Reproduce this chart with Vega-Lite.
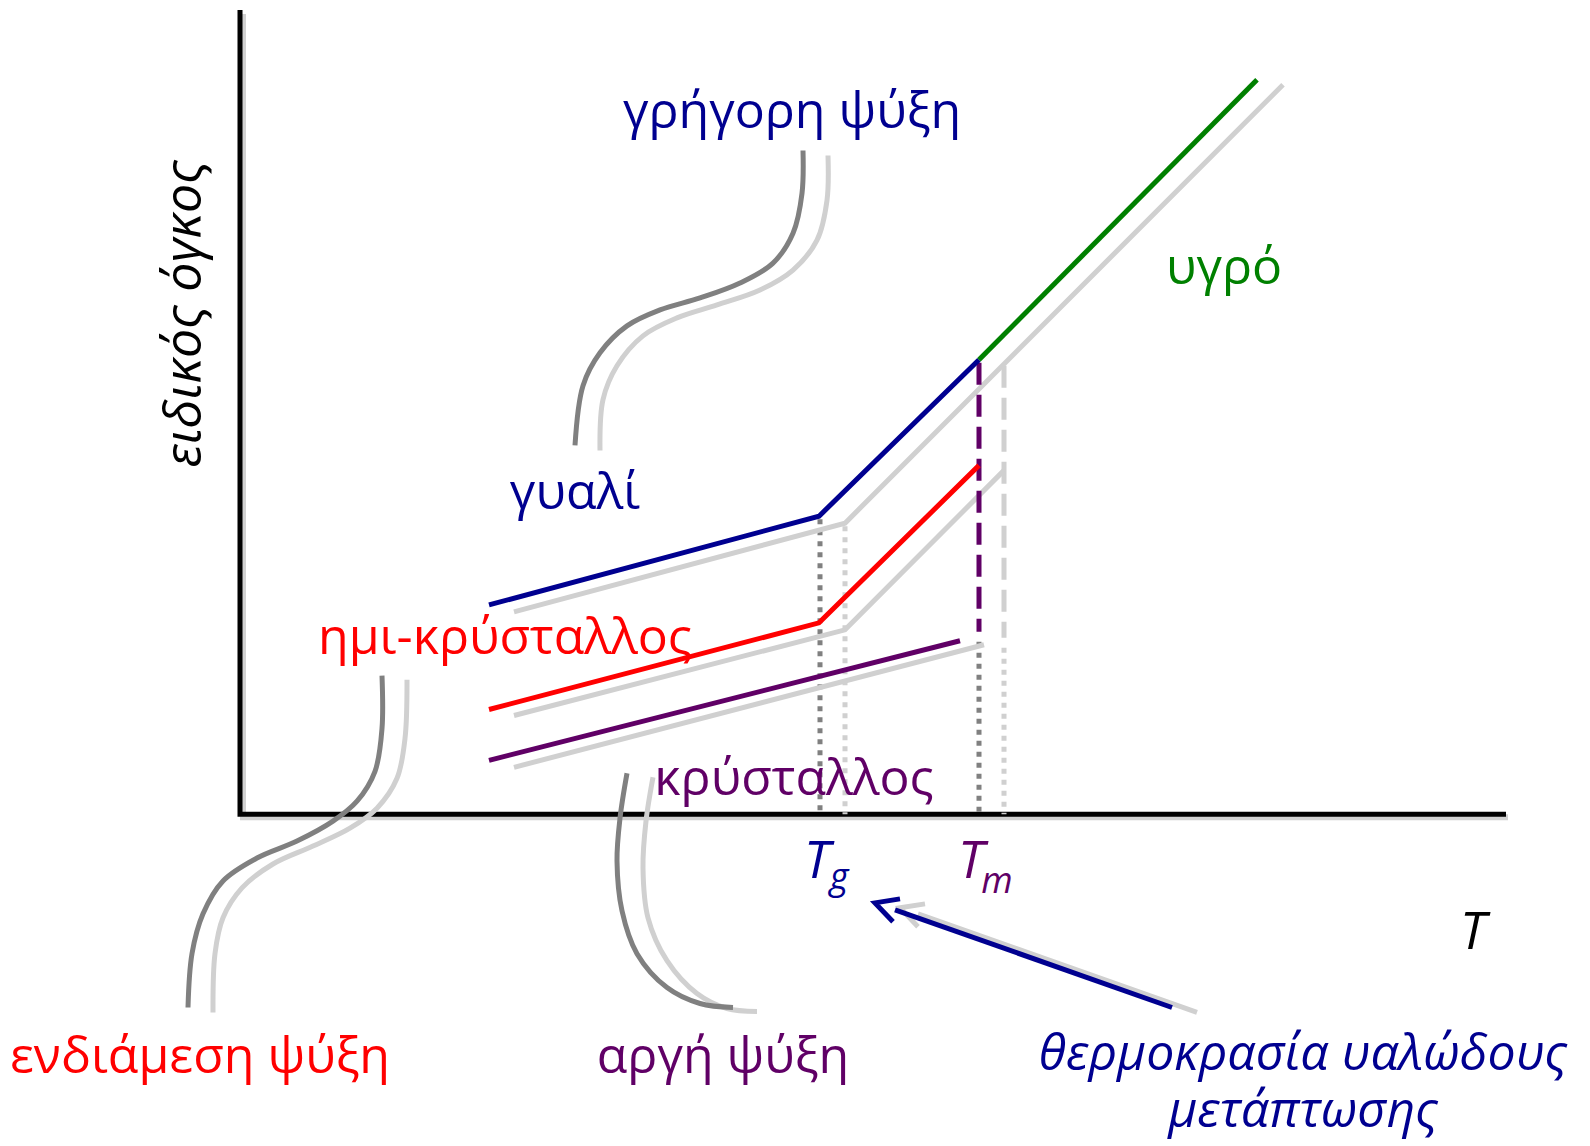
{
  "$schema": "https://vega.github.io/schema/vega-lite/v6.json",
  "width": 1590,
  "height": 1146,
  "autosize": {"type": "fit", "contains": "padding"},
  "padding": 0,
  "background": "white",
  "config": {"view": {"stroke": null}},
  "datasets": {
    "paths": [
      {"p": "axisShadow", "o": 1, "x": 243, "y": 10},
      {"p": "axisShadow", "o": 2, "x": 243, "y": 816},
      {"p": "axisShadow", "o": 3, "x": 1508, "y": 816},
      {"p": "axis", "o": 1, "x": 240, "y": 6},
      {"p": "axis", "o": 2, "x": 240, "y": 813},
      {"p": "axis", "o": 3, "x": 1506, "y": 813},

      {"p": "glassShadow", "o": 1, "x": 514, "y": 610},
      {"p": "glassShadow", "o": 2, "x": 845, "y": 521},
      {"p": "glassShadow", "o": 3, "x": 1283, "y": 81},
      {"p": "semiShadow", "o": 1, "x": 514, "y": 714},
      {"p": "semiShadow", "o": 2, "x": 845, "y": 628},
      {"p": "semiShadow", "o": 3, "x": 1004, "y": 468},
      {"p": "crystalShadow", "o": 1, "x": 514, "y": 766},
      {"p": "crystalShadow", "o": 2, "x": 984, "y": 643},

      {"p": "glass", "o": 1, "x": 489, "y": 603},
      {"p": "glass", "o": 2, "x": 819, "y": 514},
      {"p": "glass", "o": 3, "x": 979, "y": 357},
      {"p": "liquid", "o": 1, "x": 979, "y": 357},
      {"p": "liquid", "o": 2, "x": 1257, "y": 76},
      {"p": "semi", "o": 1, "x": 489, "y": 708},
      {"p": "semi", "o": 2, "x": 819, "y": 621},
      {"p": "semi", "o": 3, "x": 979, "y": 463},
      {"p": "crystal", "o": 1, "x": 489, "y": 759},
      {"p": "crystal", "o": 2, "x": 960, "y": 639},

      {"p": "TgDark", "o": 1, "x": 820, "y": 517},
      {"p": "TgDark", "o": 2, "x": 820, "y": 813},
      {"p": "TgLight", "o": 1, "x": 845, "y": 524},
      {"p": "TgLight", "o": 2, "x": 845, "y": 813},
      {"p": "TmDark", "o": 1, "x": 979, "y": 640},
      {"p": "TmDark", "o": 2, "x": 979, "y": 813},
      {"p": "TmLight", "o": 1, "x": 1004, "y": 646},
      {"p": "TmLight", "o": 2, "x": 1004, "y": 813},
      {"p": "TmPurple", "o": 1, "x": 979, "y": 360},
      {"p": "TmPurple", "o": 2, "x": 979, "y": 630},
      {"p": "TmLightDash", "o": 1, "x": 1004, "y": 363},
      {"p": "TmLightDash", "o": 2, "x": 1004, "y": 636},

      {"p": "fastDark", "o": 1, "x": 803, "y": 147},
      {"p": "fastDark", "o": 2, "x": 802, "y": 190},
      {"p": "fastDark", "o": 3, "x": 793, "y": 230},
      {"p": "fastDark", "o": 4, "x": 773, "y": 260},
      {"p": "fastDark", "o": 5, "x": 740, "y": 280},
      {"p": "fastDark", "o": 6, "x": 700, "y": 295},
      {"p": "fastDark", "o": 7, "x": 660, "y": 307},
      {"p": "fastDark", "o": 8, "x": 627, "y": 323},
      {"p": "fastDark", "o": 9, "x": 600, "y": 350},
      {"p": "fastDark", "o": 10, "x": 583, "y": 383},
      {"p": "fastDark", "o": 11, "x": 575, "y": 443},
      {"p": "fastLight", "o": 1, "x": 828, "y": 152},
      {"p": "fastLight", "o": 2, "x": 827, "y": 197},
      {"p": "fastLight", "o": 3, "x": 817, "y": 237},
      {"p": "fastLight", "o": 4, "x": 793, "y": 267},
      {"p": "fastLight", "o": 5, "x": 760, "y": 287},
      {"p": "fastLight", "o": 6, "x": 717, "y": 302},
      {"p": "fastLight", "o": 7, "x": 677, "y": 315},
      {"p": "fastLight", "o": 8, "x": 643, "y": 333},
      {"p": "fastLight", "o": 9, "x": 617, "y": 363},
      {"p": "fastLight", "o": 10, "x": 603, "y": 397},
      {"p": "fastLight", "o": 11, "x": 600, "y": 448},

      {"p": "midDark", "o": 1, "x": 382, "y": 674},
      {"p": "midDark", "o": 2, "x": 382, "y": 727},
      {"p": "midDark", "o": 3, "x": 375, "y": 770},
      {"p": "midDark", "o": 4, "x": 357, "y": 800},
      {"p": "midDark", "o": 5, "x": 333, "y": 820},
      {"p": "midDark", "o": 6, "x": 297, "y": 840},
      {"p": "midDark", "o": 7, "x": 257, "y": 857},
      {"p": "midDark", "o": 8, "x": 223, "y": 880},
      {"p": "midDark", "o": 9, "x": 203, "y": 913},
      {"p": "midDark", "o": 10, "x": 192, "y": 953},
      {"p": "midDark", "o": 11, "x": 188, "y": 1007},
      {"p": "midLight", "o": 1, "x": 407, "y": 678},
      {"p": "midLight", "o": 2, "x": 405, "y": 737},
      {"p": "midLight", "o": 3, "x": 397, "y": 777},
      {"p": "midLight", "o": 4, "x": 377, "y": 807},
      {"p": "midLight", "o": 5, "x": 350, "y": 827},
      {"p": "midLight", "o": 6, "x": 313, "y": 845},
      {"p": "midLight", "o": 7, "x": 273, "y": 863},
      {"p": "midLight", "o": 8, "x": 242, "y": 887},
      {"p": "midLight", "o": 9, "x": 223, "y": 917},
      {"p": "midLight", "o": 10, "x": 215, "y": 953},
      {"p": "midLight", "o": 11, "x": 213, "y": 1012},

      {"p": "slowDark", "o": 1, "x": 627, "y": 772},
      {"p": "slowDark", "o": 2, "x": 620, "y": 817},
      {"p": "slowDark", "o": 3, "x": 617, "y": 860},
      {"p": "slowDark", "o": 4, "x": 622, "y": 910},
      {"p": "slowDark", "o": 5, "x": 637, "y": 953},
      {"p": "slowDark", "o": 6, "x": 667, "y": 987},
      {"p": "slowDark", "o": 7, "x": 700, "y": 1003},
      {"p": "slowDark", "o": 8, "x": 733, "y": 1007},
      {"p": "slowLight", "o": 1, "x": 653, "y": 776},
      {"p": "slowLight", "o": 2, "x": 646, "y": 820},
      {"p": "slowLight", "o": 3, "x": 643, "y": 867},
      {"p": "slowLight", "o": 4, "x": 648, "y": 917},
      {"p": "slowLight", "o": 5, "x": 667, "y": 960},
      {"p": "slowLight", "o": 6, "x": 697, "y": 993},
      {"p": "slowLight", "o": 7, "x": 727, "y": 1008},
      {"p": "slowLight", "o": 8, "x": 757, "y": 1011},

      {"p": "arrowShadow", "o": 1, "x": 1197, "y": 1012},
      {"p": "arrowShadow", "o": 2, "x": 918, "y": 913},
      {"p": "headShadow", "o": 1, "x": 925, "y": 903},
      {"p": "headShadow", "o": 2, "x": 900, "y": 907},
      {"p": "headShadow", "o": 3, "x": 918, "y": 926},
      {"p": "arrow", "o": 1, "x": 1172, "y": 1007},
      {"p": "arrow", "o": 2, "x": 895, "y": 909},
      {"p": "head", "o": 1, "x": 900, "y": 898},
      {"p": "head", "o": 2, "x": 875, "y": 902},
      {"p": "head", "o": 3, "x": 893, "y": 921}
    ],
    "labels": [
      {"t": "γρήγορη ψύξη", "x": 792, "y": 124, "c": "glass", "role": "label"},
      {"t": "υγρό", "x": 1224, "y": 281, "c": "liquid", "role": "label"},
      {"t": "γυαλί", "x": 575, "y": 507, "c": "glass", "role": "label"},
      {"t": "ημι-κρύσταλλος", "x": 505, "y": 652, "c": "semi", "role": "label"},
      {"t": "κρύσταλλος", "x": 794, "y": 794, "c": "crystal", "role": "label"},
      {"t": "ενδιάμεση ψύξη", "x": 200, "y": 1073, "c": "semi", "role": "label"},
      {"t": "αργή ψύξη", "x": 723, "y": 1073, "c": "crystal", "role": "label"},
      {"t": "θερμοκρασία υαλώδους\nμετάπτωσης", "x": 1303, "y": 1070, "c": "glass", "role": "note"},
      {"t": "T", "x": 1473, "y": 948, "c": "axis", "role": "sym"},
      {"t": "T", "x": 817, "y": 877, "c": "glass", "role": "sym"},
      {"t": "g", "x": 839, "y": 888, "c": "glass", "role": "sub"},
      {"t": "T", "x": 971, "y": 877, "c": "crystal", "role": "sym"},
      {"t": "m", "x": 997, "y": 892, "c": "crystal", "role": "sub"},
      {"t": "ειδικός όγκος", "x": 201, "y": 311, "c": "axis", "role": "axisTitle"}
    ]
  },
  "encoding": {
    "x": {"field": "x", "type": "quantitative", "scale": {"domain": [0, 1590], "nice": false, "zero": false}, "axis": null},
    "y": {"field": "y", "type": "quantitative", "scale": {"domain": [0, 1146], "nice": false, "zero": false, "reverse": true}, "axis": null}
  },
  "layer": [
    {"data": {"name": "paths"}, "transform": [{"filter": {"field": "p", "oneOf": ["axisShadow"]}}],
     "mark": {"type": "line", "color": "#999999", "opacity": 0.45, "strokeWidth": 6, "strokeJoin": "miter"},
     "encoding": {"detail": {"field": "p"}, "order": {"field": "o"}}},
    {"data": {"name": "paths"}, "transform": [{"filter": {"field": "p", "oneOf": ["axis"]}}],
     "mark": {"type": "line", "color": "#000000", "strokeWidth": 5, "strokeJoin": "miter"},
     "encoding": {"detail": {"field": "p"}, "order": {"field": "o"}}},
    {"data": {"name": "paths"}, "transform": [{"filter": {"field": "p", "oneOf": ["TgLight", "TmLight"]}}],
     "mark": {"type": "line", "color": "#D0D0D0", "strokeWidth": 5, "strokeDash": [5, 6]},
     "encoding": {"detail": {"field": "p"}, "order": {"field": "o"}}},
    {"data": {"name": "paths"}, "transform": [{"filter": {"field": "p", "oneOf": ["TmLightDash"]}}],
     "mark": {"type": "line", "color": "#D0D0D0", "strokeWidth": 5, "strokeDash": [22, 10]},
     "encoding": {"detail": {"field": "p"}, "order": {"field": "o"}}},
    {"data": {"name": "paths"}, "transform": [{"filter": {"field": "p", "oneOf": ["TgDark", "TmDark"]}}],
     "mark": {"type": "line", "color": "#808080", "strokeWidth": 5, "strokeDash": [5, 6]},
     "encoding": {"detail": {"field": "p"}, "order": {"field": "o"}}},
    {"data": {"name": "paths"}, "transform": [{"filter": {"field": "p", "oneOf": ["glassShadow", "semiShadow", "crystalShadow", "arrowShadow", "headShadow"]}}],
     "mark": {"type": "line", "color": "#D0D0D0", "strokeWidth": 5, "strokeJoin": "miter"},
     "encoding": {"detail": {"field": "p"}, "order": {"field": "o"}}},
    {"data": {"name": "paths"}, "transform": [{"filter": {"field": "p", "oneOf": ["fastLight", "midLight", "slowLight"]}}],
     "mark": {"type": "line", "color": "#D0D0D0", "strokeWidth": 5, "interpolate": "catmull-rom"},
     "encoding": {"detail": {"field": "p"}, "order": {"field": "o"}}},
    {"data": {"name": "paths"}, "transform": [{"filter": {"field": "p", "oneOf": ["fastDark", "midDark", "slowDark"]}}],
     "mark": {"type": "line", "color": "#808080", "strokeWidth": 5, "interpolate": "catmull-rom"},
     "encoding": {"detail": {"field": "p"}, "order": {"field": "o"}}},
    {"data": {"name": "paths"}, "transform": [{"filter": {"field": "p", "oneOf": ["TmPurple"]}}],
     "mark": {"type": "line", "color": "#600066", "strokeWidth": 5, "strokeDash": [22, 10]},
     "encoding": {"detail": {"field": "p"}, "order": {"field": "o"}}},
    {"data": {"name": "paths"}, "transform": [{"filter": {"field": "p", "oneOf": ["glass", "arrow", "head"]}}],
     "mark": {"type": "line", "color": "#000090", "strokeWidth": 5, "strokeJoin": "miter"},
     "encoding": {"detail": {"field": "p"}, "order": {"field": "o"}}},
    {"data": {"name": "paths"}, "transform": [{"filter": {"field": "p", "oneOf": ["semi"]}}],
     "mark": {"type": "line", "color": "#FF0000", "strokeWidth": 5, "strokeJoin": "miter"},
     "encoding": {"detail": {"field": "p"}, "order": {"field": "o"}}},
    {"data": {"name": "paths"}, "transform": [{"filter": {"field": "p", "oneOf": ["crystal"]}}],
     "mark": {"type": "line", "color": "#600066", "strokeWidth": 5},
     "encoding": {"detail": {"field": "p"}, "order": {"field": "o"}}},
    {"data": {"name": "paths"}, "transform": [{"filter": {"field": "p", "oneOf": ["liquid"]}}],
     "mark": {"type": "line", "color": "#008000", "strokeWidth": 5},
     "encoding": {"detail": {"field": "p"}, "order": {"field": "o"}}},

    {"data": {"name": "labels"}, "transform": [{"filter": "datum.role == 'label'"}],
     "mark": {"type": "text", "font": "Open Sans", "fontSize": 50, "align": "center", "baseline": "alphabetic"},
     "encoding": {"text": {"field": "t"},
       "color": {"field": "c", "type": "nominal", "scale": {"domain": ["glass", "semi", "crystal", "liquid", "axis"], "range": ["#000090", "#FF0000", "#600066", "#008000", "#000000"]}, "legend": null}}},
    {"data": {"name": "labels"}, "transform": [{"filter": "datum.role == 'note'"}],
     "mark": {"type": "text", "font": "Open Sans", "fontStyle": "italic", "fontSize": 50, "align": "center", "baseline": "alphabetic", "lineBreak": "\n", "lineHeight": 57},
     "encoding": {"text": {"field": "t"},
       "color": {"field": "c", "type": "nominal", "legend": null}}},
    {"data": {"name": "labels"}, "transform": [{"filter": "datum.role == 'sym'"}],
     "mark": {"type": "text", "font": "Open Sans", "fontStyle": "italic", "fontSize": 52, "align": "center", "baseline": "alphabetic"},
     "encoding": {"text": {"field": "t"},
       "color": {"field": "c", "type": "nominal", "legend": null}}},
    {"data": {"name": "labels"}, "transform": [{"filter": "datum.role == 'sub'"}],
     "mark": {"type": "text", "font": "Open Sans", "fontStyle": "italic", "fontSize": 36, "align": "center", "baseline": "alphabetic"},
     "encoding": {"text": {"field": "t"},
       "color": {"field": "c", "type": "nominal", "legend": null}}},
    {"data": {"name": "labels"}, "transform": [{"filter": "datum.role == 'axisTitle'"}],
     "mark": {"type": "text", "font": "Open Sans", "fontStyle": "italic", "fontSize": 52, "align": "center", "baseline": "alphabetic", "angle": 270},
     "encoding": {"text": {"field": "t"},
       "color": {"field": "c", "type": "nominal", "legend": null}}}
  ]
}
